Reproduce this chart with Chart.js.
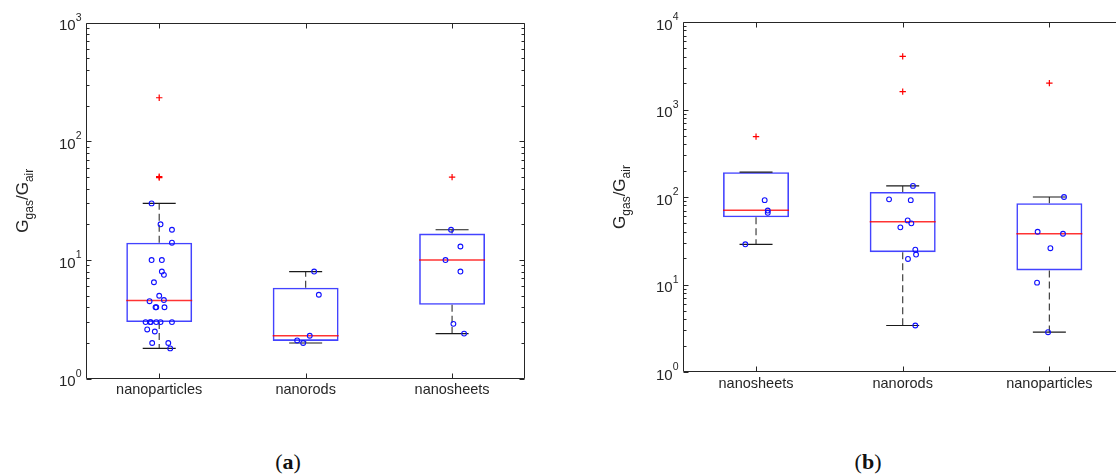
<!DOCTYPE html>
<html>
<head>
<meta charset="utf-8">
<script src="https://cdn.jsdelivr.net/npm/chart.js@4.4.1/dist/chart.umd.min.js"></script>
<style>
  html, body { margin: 0; padding: 0; background: #fff; }
  body { width: 1116px; height: 476px; position: relative; overflow: hidden; }
  canvas { position: absolute; top: 0; }
  #chart-a { left: 0; }
  #chart-b { left: 558px; }
  .caption { position: absolute; top: 449px; font-family: "Liberation Serif", "DejaVu Serif", serif;
             font-size: 22px; color: #111; transform: translateX(-50%); white-space: nowrap; }
</style>
</head>
<body>
<canvas id="chart-a" width="558" height="420"></canvas>
<canvas id="chart-b" width="600" height="420"></canvas>
<div class="caption" style="left:288px">(<b>a</b>)</div>
<div class="caption" style="left:868px">(<b>b</b>)</div>
<script>
// Box plots of Ggas/Gair by morphology, two panels

// ---- panel (a) ----
const categoriesA = ['nanoparticles', 'nanorods', 'nanosheets'];
const tickValuesA = [1, 10, 100, 1000];
const tickExponentsA = ['0', '1', '2', '3'];
const boxA = [[3.0, 14.0], [2.08, 5.85], [4.2, 16.7]];   // [Q1, Q3]
const medianA = [4.55, 2.3, 10.0];
const whiskerLowA = [1.8, 2.0, 2.4];
const whiskerHighA = [30, 8.0, 18];
const outliersA = [[233, 50.5, 49.5], [], [50]];
const valuesA = [
  [30, 20, 18, 14, 10, 10, 8, 7.5, 6.5, 5, 4.5, 4.6, 4, 4, 4, 3, 3, 3, 3, 3, 3, 2.6, 2.5, 2, 2, 1.8],
  [8.0, 5.1, 2.3, 2.1, 2.0],
  [18, 13, 10, 8, 2.9, 2.4]
];
// horizontal scatter of each circle, in category units
const jitterA = [
  [-0.052, 0.009, 0.087, 0.087, -0.052, 0.018, 0.018, 0.032, -0.036, 0, -0.066, 0.032, -0.025, -0.02, 0.036,
   -0.093, -0.062, -0.057, -0.02, 0.009, 0.087, -0.082, -0.03, -0.048, 0.062, 0.075],
  [0.058, 0.09, 0.028, -0.058, -0.017],
  [-0.007, 0.057, -0.045, 0.057, 0.009, 0.082]
];

// ---- panel (b) ----
const categoriesB = ['nanosheets', 'nanorods', 'nanoparticles'];
const tickValuesB = [1, 10, 100, 1000, 10000];
const tickExponentsB = ['0', '1', '2', '3', '4'];
const boxB = [[58.5, 192], [23.4, 114], [14.5, 85]];
const medianB = [70.5, 52, 38];
const whiskerLowB = [28.8, 3.4, 2.85];
const whiskerHighB = [192, 134, 100];
const outliersB = [[490], [4050, 1600], [2000]];
const valuesB = [
  [92, 70, 66, 28.8],
  [134, 94, 92, 54, 50, 45, 25, 22, 19.6, 3.4],
  [100, 40, 38, 26, 10.5, 2.85]
];
const jitterB = [
  [0.059, 0.08, 0.08, -0.073],
  [0.07, -0.093, 0.055, 0.034, 0.059, -0.016, 0.086, 0.091, 0.036, 0.086],
  [0.1, -0.08, 0.093, 0.007, -0.084, -0.009]
];

const FONT = '"Liberation Sans", Arial, Helvetica, sans-serif';
const AXIS_COLOR = '#262626';

// frame, inward ticks, 10^n labels and the y title
const axesDecor = {
  id: 'axesDecor',
  afterDatasetsDraw(chart, args, o) {
    const { ctx, chartArea: a } = chart;
    const xs = chart.scales.x, ys = chart.scales.y;
    const L = Math.round(a.left) + 0.5, R = Math.round(a.right) - 0.5;
    const T = Math.round(a.top) + 0.5, B = Math.round(a.bottom) - 0.5;
    ctx.save();
    ctx.strokeStyle = AXIS_COLOR;
    ctx.lineWidth = 1;
    ctx.beginPath();
    ctx.rect(L, T, R - L, B - T);
    xs.ticks.forEach((t, i) => {
      const px = Math.round(xs.getPixelForTick(i)) + 0.5;
      ctx.moveTo(px, B); ctx.lineTo(px, B - 5);
      ctx.moveTo(px, T); ctx.lineTo(px, T + 5);
    });
    o.tickValues.forEach((v, k) => {
      const last = k === o.tickValues.length - 1;
      for (let m = 1; m < (last ? 2 : 10); m++) {
        const py = Math.round(ys.getPixelForValue(v * m)) + 0.5;
        const len = m === 1 ? 5 : 3;
        ctx.moveTo(L, py); ctx.lineTo(L + len, py);
        ctx.moveTo(R, py); ctx.lineTo(R - len, py);
      }
    });
    ctx.stroke();

    // tick labels
    ctx.fillStyle = AXIS_COLOR;
    ctx.textAlign = 'left';
    ctx.textBaseline = 'alphabetic';
    o.tickValues.forEach((v, k) => {
      const py = ys.getPixelForValue(v);
      const exp = o.tickExponents[k];
      ctx.font = '10.5px ' + FONT;
      const ew = ctx.measureText(exp).width;
      const xr = L - 5;
      ctx.fillText(exp, xr - ew, py - 2);
      ctx.font = '15px ' + FONT;
      const bw = ctx.measureText('10').width;
      ctx.fillText('10', xr - ew - bw, py + 7.5);
    });

    // y title G_gas/G_air
    ctx.translate(L - 59, (a.top + a.bottom) / 2);
    ctx.rotate(-Math.PI / 2);
    const parts = [['G', 17, 0], ['gas', 12, 5.5], ['/G', 17, 0], ['air', 12, 5.5]];
    let total = 0;
    parts.forEach(p => { ctx.font = p[1] + 'px ' + FONT; total += ctx.measureText(p[0]).width; });
    let cx = -total / 2;
    parts.forEach(p => {
      ctx.font = p[1] + 'px ' + FONT;
      ctx.fillText(p[0], cx, p[2]);
      cx += ctx.measureText(p[0]).width;
    });
    ctx.restore();
  }
};

function makeChart(canvasId, cfg) {
  const n = cfg.categories.length;
  const points = [];
  cfg.values.forEach((list, i) => list.forEach((v, k) => points.push({ x: i + cfg.jitter[i][k], y: v })));
  const outliers = [];
  cfg.outliers.forEach((list, i) => list.forEach(v => outliers.push({ x: i, y: v })));
  const medians = cfg.median.map((v, i) => ({ x: i, y: v }));
  const caps = [];
  const whiskers = [];
  cfg.categories.forEach((c, i) => {
    caps.push({ x: i, y: cfg.whiskerLow[i] }, { x: i, y: cfg.whiskerHigh[i] });
    whiskers.push({ x: i, y: cfg.box[i][1] }, { x: i, y: cfg.whiskerHigh[i] }, { x: i, y: null });
    whiskers.push({ x: i, y: cfg.box[i][0] }, { x: i, y: cfg.whiskerLow[i] }, { x: i, y: null });
  });

  return new Chart(document.getElementById(canvasId), {
    type: 'bar',
    data: {
      labels: cfg.categories,
      datasets: [
        { type: 'scatter', data: points, xAxisID: 'x2', pointStyle: 'circle', pointRadius: 2.4,
          borderColor: '#1010ff', backgroundColor: 'rgba(0,0,0,0)', borderWidth: 1.1 },
        { type: 'scatter', data: outliers, xAxisID: 'x2', pointStyle: 'cross', pointRadius: 3.2,
          borderColor: '#ff0000', borderWidth: 1.2 },
        { type: 'scatter', data: medians, xAxisID: 'x2', pointStyle: 'line', pointRadius: 33,
          borderColor: 'rgba(255,0,0,0.8)', borderWidth: 1.5 },
        { type: 'scatter', data: caps, xAxisID: 'x2', pointStyle: 'line', pointRadius: 16.5,
          borderColor: '#1a1a1a', borderWidth: 1.2 },
        { type: 'line', data: whiskers, xAxisID: 'x2', pointRadius: 0, spanGaps: false,
          borderColor: '#404040', borderWidth: 1.2, borderDash: [7, 4], fill: false },
        { type: 'bar', data: cfg.box, xAxisID: 'x', grouped: false, backgroundColor: 'rgba(0,0,0,0)',
          borderColor: 'rgba(20,20,255,0.8)', borderWidth: 1.6, borderSkipped: false,
          barPercentage: 0.45, categoryPercentage: 1.0 }
      ]
    },
    options: {
      responsive: false,
      animation: false,
      events: [],
      layout: { autoPadding: false, padding: { left: 0, top: cfg.padTop, right: cfg.padRight, bottom: 0 } },
      plugins: {
        legend: { display: false },
        tooltip: { enabled: false },
        axesDecor: { tickValues: cfg.tickValues, tickExponents: cfg.tickExponents }
      },
      scales: {
        x: {
          type: 'category', offset: true,
          grid: { display: false, drawTicks: false, offset: true },
          border: { display: false },
          ticks: { color: AXIS_COLOR, font: { family: FONT, size: 14.5 }, padding: 3, maxRotation: 0, autoSkip: false },
          afterFit: s => { s.height = cfg.xHeight; }
        },
        x2: { type: 'linear', display: false, offset: false, min: -0.5, max: n - 0.5 },
        y: {
          type: 'logarithmic', min: cfg.tickValues[0], max: cfg.tickValues[cfg.tickValues.length - 1],
          grid: { display: false, drawTicks: false },
          border: { display: false },
          ticks: { display: false },
          afterFit: s => { s.width = cfg.yWidth; }
        }
      }
    },
    plugins: [axesDecor]
  });
}

makeChart('chart-a', {
  categories: categoriesA, tickValues: tickValuesA, tickExponents: tickExponentsA,
  box: boxA, median: medianA, whiskerLow: whiskerLowA, whiskerHigh: whiskerHighA,
  outliers: outliersA, values: valuesA, jitter: jitterA,
  padTop: 22.7, padRight: 32.7, xHeight: 41.3, yWidth: 86
});

makeChart('chart-b', {
  categories: categoriesB, tickValues: tickValuesB, tickExponents: tickExponentsB,
  box: boxB, median: medianB, whiskerLow: whiskerLowB, whiskerHigh: whiskerHighB,
  outliers: outliersB, values: valuesB, jitter: jitterB,
  padTop: 22, padRight: 35.3, xHeight: 48, yWidth: 124.7
});
</script>
</body>
</html>
